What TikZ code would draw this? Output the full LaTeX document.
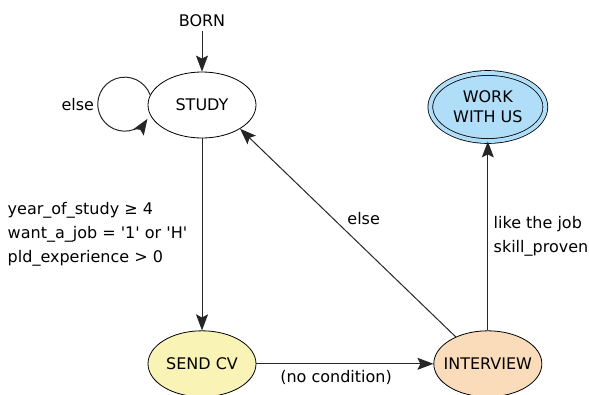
\documentclass[tikz,border=0pt]{standalone}
\usepackage{fontspec}
\setmainfont{DejaVu Sans}
\usetikzlibrary{arrows.meta,automata,positioning,shapes.geometric}
\definecolor{workblue}{RGB}{176,222,248}
\definecolor{cvyellow}{RGB}{250,243,182}
\definecolor{interviewpeach}{RGB}{251,220,186}

\begin{document}
\begin{tikzpicture}[
    x = 1pt, y = 1pt,
    > = {Stealth[length=16pt,width=12pt,inset=3pt]}, % arrow head style
    auto,
    node distance = 40pt, % distance between nodes
    every edge/.style = {draw = black!85, line width = 1pt}, % line style
    font = \fontsize{16}{20}\selectfont,
    ]

    \tikzset{every state/.style={
    draw = black,
    shape = ellipse,
    fill = white,
    line width = 0.8pt,
    minimum width = 108pt,
    minimum height = 66pt,
    inner xsep = -6pt,
    inner ysep = 0pt,
    align = center
    }}
    \tikzset{goal/.style={
    double = workblue,
    double distance = 4pt,
    fill = workblue,
    minimum width = 115pt,
    minimum height = 68pt
    }}
    \tikzset{cond/.style={align=left, font=\fontsize{16}{24}\selectfont}}

    \useasboundingbox (0,0) rectangle (589,-394);

    \node[state] (study) at (202,-105) {STUDY};
    \node (born) [above=41pt of study] {BORN};
    \node (loopelse) [left=50pt of study] {else};
    \node[state, fill=cvyellow] (sendcv) [below=192pt of study] {SEND CV};
    \node[state, fill=interviewpeach] (interview) [right=177pt of sendcv] {INTERVIEW};
    \node[state, goal] (work) [above=189pt of interview] {WORK\\WITH US};

    \path[->] (born) edge (study);
    \draw[->, draw=black!85, line width=1pt] (study.169) arc[start angle=20, end angle=327, radius=27pt];
    \path[->] (study) edge node[left=11pt, cond]{year\_of\_study ≥ 4\\want\_a\_job = \textquotesingle 1\textquotesingle{} or \textquotesingle H\textquotesingle\\pld\_experience > 0} (sendcv);
    \path[->] (sendcv) edge node[below=3pt, pos=0.45]{(no condition)} (interview);
    \path[->] (interview) edge node[right=2pt, cond]{like the job\\skill\_proven} (work);
    \path[->] (interview.140) edge node[pos=0.52, above right]{else} (study.-32);
\end{tikzpicture}
\end{document}
